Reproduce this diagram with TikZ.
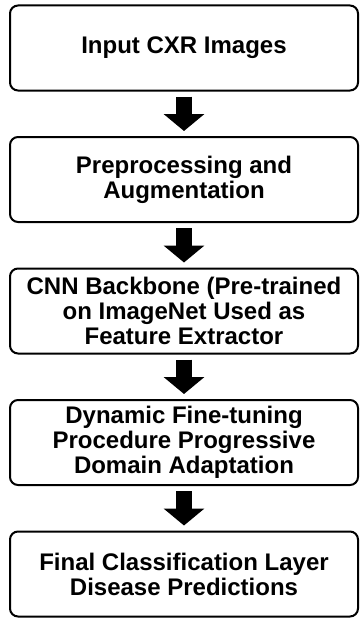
\documentclass[tikz,border=0pt]{standalone}
\usepackage{fontspec}
\setmainfont{Liberation Sans}
\usetikzlibrary{positioning,arrows.meta}
\tikzset{cbox/.style={
  draw=black,
  line width=2pt,
  rounded corners=8pt,
  minimum width=348pt,
  minimum height=85pt,
  align=center,
  inner sep=2pt,
  font=\fontsize{24}{25}\selectfont\bfseries}}
\tikzset{carrow/.style={
  line width=16pt,
  shorten <=5pt,
  shorten >=5pt,
  -{Triangle[width=40pt,length=17pt]}}}

\begin{document}
\begin{tikzpicture}[node distance=44.5pt]
  \useasboundingbox (0,0) rectangle (359pt,-618pt);

  %%%% Boxes of the pipeline %%%%
  \node[cbox] (input) at (184pt,-48pt) {Input CXR Images};
  \node[cbox,below=of input] (prep) {Preprocessing and\\Augmentation};
  \node[cbox,below=of prep] (cnn) {CNN Backbone (Pre-trained\\on ImageNet Used as\\Feature Extractor};
  \node[cbox,below=of cnn] (tune) {Dynamic Fine-tuning\\Procedure Progressive\\Domain Adaptation};
  \node[cbox,below=of tune] (final) {Final Classification Layer\\Disease Predictions};

  %% Arrows between the boxes
  \draw[carrow] (input) -- (prep);
  \draw[carrow] (prep) -- (cnn);
  \draw[carrow] (cnn) -- (tune);
  \draw[carrow] (tune) -- (final);

\end{tikzpicture}
\end{document}
